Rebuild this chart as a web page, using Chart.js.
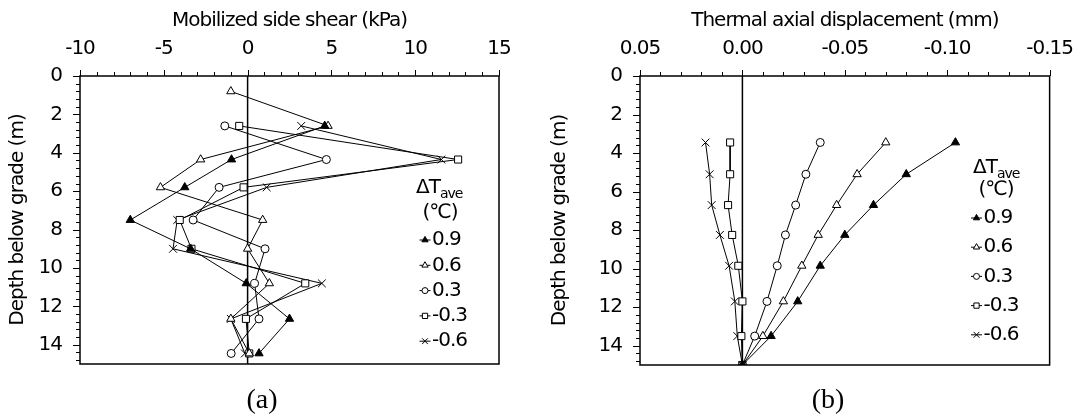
<!DOCTYPE html>
<html>
<head>
<meta charset="utf-8">
<script src="https://cdn.jsdelivr.net/npm/chart.js@4.4.1/dist/chart.umd.min.js"></script>
<style>
  html, body { margin: 0; padding: 0; background: #fff; }
  #page { position: relative; width: 1088px; height: 416px; overflow: hidden; }
  .panel { position: absolute; top: 0; width: 544px; height: 416px; }
  .tag {
    position: absolute; top: 383px; width: 100px; text-align: center;
    font: 28px "Liberation Serif", serif; line-height: 32px; color: #000;
  }
</style>
</head>
<body>
<div id="page">
  <div class="panel" style="left:0"><canvas id="shear" width="544" height="416"></canvas></div>
  <div class="panel" style="left:544px"><canvas id="disp" width="544" height="416"></canvas></div>
  <div class="tag" style="left:212px">(a)</div>
  <div class="tag" style="left:778px">(b)</div>
</div>
<script>
// legend entries, ΔT_ave in °C
const tempLabels = ['0.9', '0.6', '0.3', '-0.3', '-0.6'];

// (a) mobilized side shear, kPa, against depth (m)
const shearDepth = [0.8, 2.6, 4.35, 5.8, 7.5, 9.0, 10.8, 12.65, 14.45];
const shear09  = [null, 4.6, -0.96, -3.75, -7.0, -3.4, -0.08, 2.5, 0.68];
const shear06  = [-1.0, 4.8, -2.8, -5.2, 0.9, 0.0, 1.3, -1.0, 0.1];
const shear03  = [null, -1.36, 4.7, -1.7, -3.25, 1.04, 0.42, 0.68, -0.98];
const shearM03 = [null, -0.5, 12.56, -0.24, -4.05, -3.35, 3.44, -0.1, 0.1];
const shearM06 = [null, 3.2, 11.56, 1.14, -4.2, -4.45, 4.43, -1.0, -0.16];
const shearTicks = [-10, -5, 0, 5, 10, 15];

// (b) thermal axial displacement, mm, against depth (m)
const dispDepth = [3.45, 5.1, 6.7, 8.25, 9.85, 11.7, 13.5, 15];
const disp09  = [-0.104, -0.080, -0.064, -0.050, -0.038, -0.027, -0.014, 0];
const disp06  = [-0.070, -0.056, -0.046, -0.037, -0.029, -0.020, -0.010, 0];
const disp03  = [-0.038, -0.031, -0.026, -0.021, -0.017, -0.012, -0.006, 0];
const dispM03 = [0.006, 0.006, 0.007, 0.005, 0.002, 0.000, 0.0005, 0];
const dispM06 = [0.018, 0.016, 0.015, 0.011, 0.0065, 0.0037, 0.0025, 0];
const dispTicks = [0.05, 0, -0.05, -0.10, -0.15];

const depthTicks = [0, 2, 4, 6, 8, 10, 12, 14];

const FONT = 'DejaVu Sans';
Chart.defaults.font.family = FONT;
Chart.defaults.font.size = 20;
Chart.defaults.color = '#000';

// marker look per series, same order as tempLabels
const styles = [
  { pointStyle: 'triangle', r: 4.8, fill: '#000' },
  { pointStyle: 'triangle', r: 4.8, fill: '#fff' },
  { pointStyle: 'circle',   r: 4,   fill: '#fff' },
  { pointStyle: 'rect',     r: 5,   fill: '#fff' },
  { pointStyle: 'crossRot', r: 5.5, fill: '#fff' }
];

function points(depth, vals) {
  return depth.map((d, i) => ({ x: vals[i], y: d })).filter(p => p.x !== null);
}

function series(depth, list) {
  return list.map((vals, i) => ({
    label: tempLabels[i],
    data: points(depth, vals),
    borderColor: '#000',
    borderWidth: 1,
    pointStyle: styles[i].pointStyle,
    pointRadius: styles[i].r,
    pointBackgroundColor: styles[i].fill,
    pointBorderColor: '#000',
    pointBorderWidth: 1,
    showLine: true,
    tension: 0
  }));
}

// small legend marker
function mark(ctx, style, x, y, r, fill) {
  ctx.beginPath();
  if (style === 'triangle') {
    ctx.moveTo(x, y - r);
    ctx.lineTo(x + r * 0.866, y + r / 2);
    ctx.lineTo(x - r * 0.866, y + r / 2);
    ctx.closePath();
  } else if (style === 'circle') {
    ctx.arc(x, y, r, 0, Math.PI * 2);
  } else if (style === 'rect') {
    ctx.rect(x - r * 0.7, y - r * 0.7, r * 1.4, r * 1.4);
  } else {
    const d = r * 0.7;
    ctx.moveTo(x - d, y - d); ctx.lineTo(x + d, y + d);
    ctx.moveTo(x + d, y - d); ctx.lineTo(x - d, y + d);
  }
  if (style !== 'crossRot') { ctx.fillStyle = fill; ctx.fill(); }
  ctx.stroke();
}

function isMajor(v, major) {
  const q = v / major;
  return Math.abs(q - Math.round(q)) < 1e-6;
}

// frame, zero line, minor ticks and the ΔT legend
const frame = {
  id: 'frame',
  beforeUpdate(chart) { chart.ctx.letterSpacing = '-1px'; },
  beforeDraw(chart) { chart.ctx.letterSpacing = '-1px'; },
  beforeDatasetsDraw(chart) {
    const { ctx, chartArea: a, scales: { x } } = chart;
    const zx = x.getPixelForValue(0);
    ctx.save();
    ctx.strokeStyle = '#000';
    ctx.lineWidth = 1.5;
    ctx.beginPath();
    ctx.moveTo(zx, a.top);
    ctx.lineTo(zx, a.bottom);
    ctx.stroke();
    ctx.restore();
  },
  afterDraw(chart, args, o) {
    const { ctx, chartArea: a, scales: { x, y } } = chart;
    ctx.save();
    ctx.strokeStyle = '#000';
    ctx.lineWidth = 1.5;
    ctx.strokeRect(a.left, a.top, a.right - a.left, a.bottom - a.top);

    ctx.lineWidth = 1;
    ctx.beginPath();
    let n = Math.floor((x.max - x.min) / o.xStep + 1e-6);
    for (let i = 0; i <= n; i++) {
      const v = x.min + i * o.xStep;
      const px = Math.round(x.getPixelForValue(v)) + 0.5;
      const len = isMajor(v, o.xMajor) ? 6 : 4;
      ctx.moveTo(px, a.top);
      ctx.lineTo(px, a.top - len);
    }
    n = Math.floor((y.max - y.min) / o.yStep + 1e-6);
    for (let i = 0; i <= n; i++) {
      const v = y.min + i * o.yStep;
      const py = Math.round(y.getPixelForValue(v)) + 0.5;
      const len = isMajor(v, o.yMajor) ? 7 : 4;
      ctx.moveTo(a.left, py);
      ctx.lineTo(a.left - len, py);
    }
    ctx.stroke();

    // legend
    const lg = o.legend;
    ctx.fillStyle = '#000';
    ctx.textBaseline = 'middle';
    ctx.textAlign = 'left';
    ctx.font = '20px "' + FONT + '"';
    ctx.fillText('ΔT', lg.x, lg.headY);
    const w = ctx.measureText('ΔT').width;
    ctx.font = '14px "' + FONT + '"';
    ctx.fillText('ave', lg.x + w, lg.headY + 6);
    ctx.font = '20px "' + FONT + '"';
    ctx.textAlign = 'center';
    ctx.fillText('(℃)', lg.unitX, lg.unitY);
    ctx.textAlign = 'left';
    chart.data.datasets.forEach((ds, i) => {
      const yy = lg.rowY + i * lg.gap;
      ctx.beginPath();
      ctx.moveTo(lg.markX - 5.5, yy);
      ctx.lineTo(lg.markX + 5.5, yy);
      ctx.stroke();
      mark(ctx, styles[i].pointStyle, lg.markX, yy, styles[i].r * 0.75, styles[i].fill);
      ctx.fillStyle = '#000';
      ctx.fillText(ds.label, lg.markX + 7, yy);
    });
    ctx.restore();
  }
};

function depthAxis(width, titlePad) {
  return {
    type: 'linear',
    position: 'left',
    reverse: true,
    min: 0,
    max: 15,
    grid: { display: false, drawTicks: false },
    border: { display: false },
    afterBuildTicks: s => { s.ticks = depthTicks.map(v => ({ value: v })); },
    afterFit: s => { s.width = width; },
    ticks: { padding: 18, autoSkip: false },
    title: { display: true, text: 'Depth below grade (m)', font: { size: 20 }, padding: { top: titlePad, bottom: 0 } }
  };
}

function topAxis(title, min, max, ticks, fmt, reverse) {
  return {
    type: 'linear',
    position: 'top',
    min: min,
    max: max,
    reverse: reverse,
    grid: { display: false, drawTicks: false },
    border: { display: false },
    afterBuildTicks: s => { s.ticks = ticks.map(v => ({ value: v })); },
    afterFit: s => { s.height = 76; },
    ticks: { padding: 15, autoSkip: false, maxRotation: 0, callback: fmt },
    title: { display: true, text: title, font: { size: 20 }, padding: { top: 9, bottom: 0 } }
  };
}

new Chart(document.getElementById('shear'), {
  type: 'scatter',
  data: { datasets: series(shearDepth, [shear09, shear06, shear03, shearM03, shearM06]) },
  plugins: [frame],
  options: {
    responsive: false,
    animation: false,
    layout: { padding: { left: 0, right: 45, top: 0, bottom: 52 } },
    plugins: {
      legend: { display: false },
      tooltip: { enabled: false },
      frame: {
        xStep: 1, xMajor: 5, yStep: 0.4, yMajor: 2,
        legend: { x: 416, headY: 188, unitX: 440, unitY: 213, rowY: 240, gap: 25.3, markX: 425 }
      }
    },
    scales: {
      x: topAxis('Mobilized side shear (kPa)', -10, 15, shearTicks, v => String(v), false),
      y: depthAxis(80, 6)
    }
  }
});

new Chart(document.getElementById('disp'), {
  type: 'scatter',
  data: { datasets: series(dispDepth, [disp09, disp06, disp03, dispM03, dispM06]) },
  plugins: [frame],
  options: {
    responsive: false,
    animation: false,
    layout: { padding: { left: 0, right: 30, top: 0, bottom: 51 } },
    plugins: {
      legend: { display: false },
      tooltip: { enabled: false },
      frame: {
        xStep: 0.01, xMajor: 0.05, yStep: 0.4, yMajor: 2,
        legend: { x: 429, headY: 168, unitX: 452, unitY: 190, rowY: 218, gap: 29.2, markX: 432.5 }
      }
    },
    scales: {
      x: topAxis('Thermal axial displacement (mm)', -0.15, 0.05, dispTicks, v => v.toFixed(2), true),
      y: depthAxis(96, 4)
    }
  }
});
</script>
</body>
</html>
